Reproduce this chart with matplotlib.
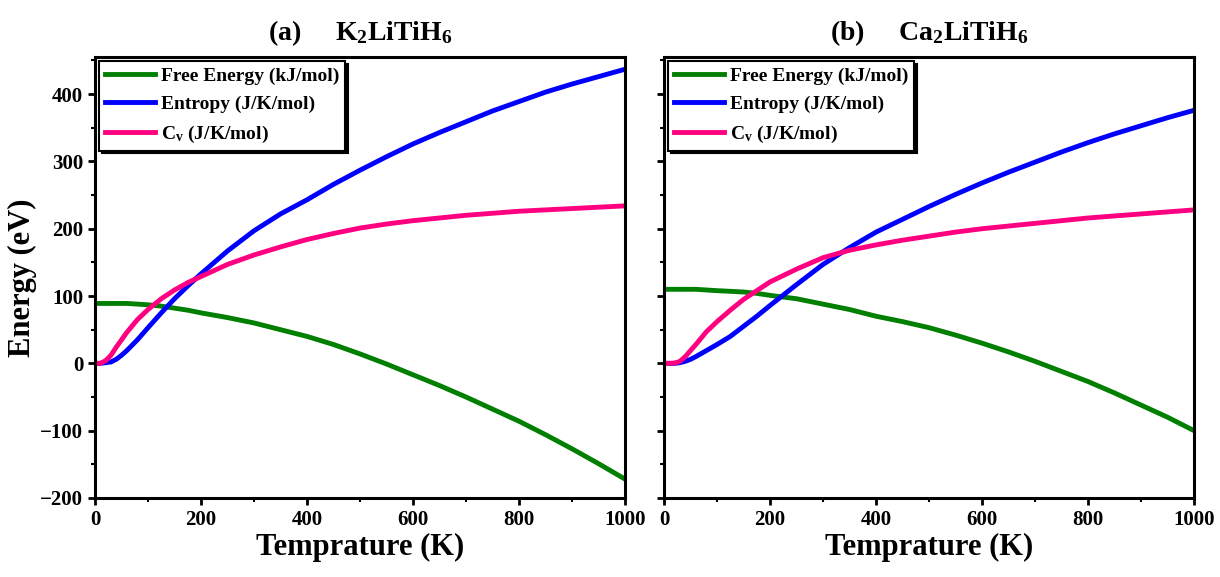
import matplotlib
matplotlib.use('Agg')
import matplotlib.pyplot as plt
from matplotlib.ticker import MultipleLocator

plt.rcParams['font.family'] = ['Liberation Serif', 'DejaVu Serif']
plt.rcParams['font.weight'] = 'bold'
plt.rcParams['axes.titleweight'] = 'bold'
plt.rcParams['axes.labelweight'] = 'bold'
plt.rcParams['mathtext.fontset'] = 'custom'
plt.rcParams['mathtext.rm'] = 'Liberation Serif:bold'
plt.rcParams['mathtext.it'] = 'Liberation Serif:bold'
plt.rcParams['mathtext.bf'] = 'Liberation Serif:bold'
plt.rcParams['mathtext.default'] = 'rm'

# temperature grid (K)
T = [0, 10, 20, 30, 40, 50, 60, 80, 100, 125, 150, 175, 200, 250, 300, 350,
     400, 450, 500, 550, 600, 650, 700, 750, 800, 850, 900, 950, 1000]

# (a) K2LiTiH6
free_a = [89, 89, 89, 89, 89, 89, 89, 88, 87, 85, 82, 79, 75, 68, 60, 50,
          40, 28, 14, -1, -17, -33, -50, -68, -86, -106, -127, -149, -172]
entropy_a = [0, 0, 1, 2, 6, 12, 19, 35, 53, 75, 96, 115, 133, 167, 197, 222,
             243, 266, 287, 307, 326, 343, 359, 375, 389, 403, 415, 426, 437]
cv_a = [0, 0, 4, 12, 24, 35, 46, 65, 80, 96, 109, 120, 129, 147, 161, 173,
        184, 193, 201, 207, 212, 216, 220, 223, 226, 228, 230, 232, 234]

# (b) Ca2LiTiH6
free_b = [110, 110, 110, 110, 110, 110, 110, 109, 108, 107, 106, 104, 101, 96, 88, 80,
          70, 62, 53, 42, 30, 17, 3, -12, -27, -44, -62, -80, -100]
entropy_b = [0, 0, 0, 1, 3, 6, 10, 19, 28, 40, 55, 70, 86, 117, 147, 172,
             195, 214, 233, 251, 268, 284, 299, 314, 328, 341, 353, 365, 376]
cv_b = [0, 0, 0.5, 3, 10, 19, 28, 47, 62, 79, 95, 108, 121, 140, 157, 168,
        176, 183, 189, 195, 200, 204, 208, 212, 216, 219, 222, 225, 228]

titles = [r'(a)     K$_2$LiTiH$_6$', r'(b)     Ca$_2$LiTiH$_6$']
panels = [(free_a, entropy_a, cv_a), (free_b, entropy_b, cv_b)]

fig = plt.figure(figsize=(12.2, 5.77), dpi=100)
ax1 = fig.add_axes([0.0779, 0.137, 0.4344, 0.764])
ax2 = fig.add_axes([0.5443, 0.137, 0.4344, 0.764], sharey=ax1)

for i, ax in enumerate([ax1, ax2]):
    f, s, c = panels[i]
    ax.plot(T, f, color='#007f00', lw=3.5, label='Free Energy (kJ/mol)')
    ax.plot(T, s, color='#0000ff', lw=3.5, label='Entropy (J/K/mol)')
    ax.plot(T, c, color='#ff0080', lw=3.5, label=r'C$_v$ (J/K/mol)')
    ax.set_xlim(0, 1000)
    ax.set_ylim(-200, 455)
    ax.xaxis.set_major_locator(MultipleLocator(200))
    ax.xaxis.set_minor_locator(MultipleLocator(100))
    ax.yaxis.set_major_locator(MultipleLocator(100))
    ax.yaxis.set_minor_locator(MultipleLocator(50))
    ax.tick_params(which='major', direction='out', length=5, width=2, labelsize=15)
    ax.tick_params(which='minor', direction='out', length=3, width=1.5)
    for sp in ax.spines.values():
        sp.set_linewidth(2.2)
    ax.set_xlabel('Temprature (K)', fontsize=22, labelpad=2)
    ax.set_title(titles[i], fontsize=20, pad=12)
    leg = ax.legend(loc='upper left', fontsize=14, frameon=True, fancybox=False,
                    edgecolor='black', handlelength=2.6, borderpad=0.3,
                    labelspacing=0.55, handletextpad=0.3, borderaxespad=0.2,
                    shadow={'color': 'black', 'alpha': 1, 'ox': 2, 'oy': -2})
    leg.get_frame().set_linewidth(1.5)
    for ln in leg.get_lines():
        ln.set_linewidth(3.5)

ax1.set_ylabel('Energy (eV)', fontsize=22, labelpad=2)
plt.setp(ax2.get_yticklabels(), visible=False)

fig.savefig('out.png', dpi=100)
